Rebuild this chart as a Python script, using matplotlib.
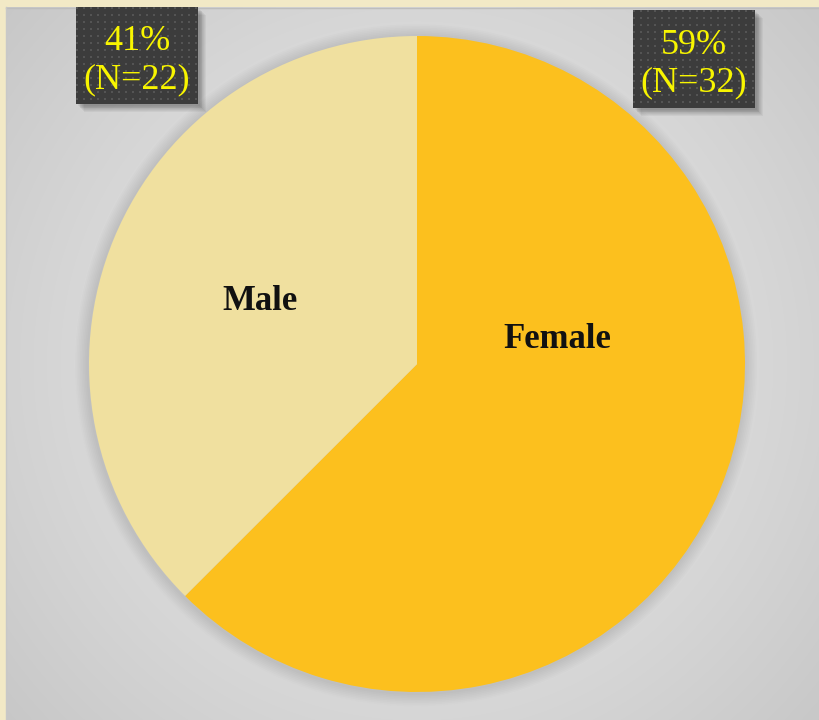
import numpy as np
import matplotlib
matplotlib.use("Agg")
import matplotlib.pyplot as plt
from matplotlib.patches import Rectangle, Circle

# ---- data ----
categories = ["Female", "Male"]
shares = [62.5, 37.5]              # drawn slice shares
pct_labels = ["59%", "41%"]
n_labels = ["(N=32)", "(N=22)"]
colors = ["#FCC01E", "#F0E09F"]

W, H = 820, 720
fig = plt.figure(figsize=(W / 100, H / 100), dpi=100)

# background axes in pixel coordinates
bg = fig.add_axes([0, 0, 1, 1])
bg.set_xlim(0, W)
bg.set_ylim(H, 0)
bg.axis("off")
bg.add_patch(Rectangle((0, 0), W, H, color="#F2E9C6", zorder=0))

# radial gradient panel
x0, y0 = 6, 7
xs = np.arange(x0, W) + 0.5
ys = np.arange(y0, H) + 0.5
XX, YY = np.meshgrid(xs, ys)
d = np.sqrt((XX - 417) ** 2 + (YY - 364) ** 2)
t = np.clip(d / 560.0, 0, 1)
inner = np.array([234, 234, 234]) / 255
outer = np.array([198, 198, 198]) / 255
img = inner[None, None, :] * (1 - t[..., None] ** 1.3) + outer[None, None, :] * (t[..., None] ** 1.3)
bg.imshow(img, extent=[x0, W, H, y0], zorder=1, interpolation="bilinear", aspect="auto")
bg.plot([x0, W], [y0 + 0.5, y0 + 0.5], color="#BDBDBD", lw=1, zorder=2)
bg.plot([x0 + 0.5, x0 + 0.5], [y0, H], color="#C8C8C8", lw=1, zorder=2)

# pie axes
cx, cy, R = 417, 364, 328
pax = fig.add_axes([(cx - R * 1.1) / W, (H - cy - R * 1.1) / H, 2.2 * R / W, 2.2 * R / H])
pax.axis("off")
# soft shadow
for i in range(8):
    pax.add_patch(Circle((-0.003, -0.004), 1.0 + 0.005 * (i + 1), color="black",
                         alpha=0.01, lw=0, zorder=0))
pax.pie(shares, colors=colors, startangle=90, counterclock=False, radius=1.0,
        wedgeprops=dict(linewidth=0, zorder=2))
pax.set_xlim(-1.1, 1.1)
pax.set_ylim(-1.1, 1.1)
pax.set_aspect("equal")

font = "Liberation Serif"
pax.text((557 - cx) / R, (cy - 340) / R, categories[0], ha="center", va="center",
         fontsize=25, fontweight="bold", family=font, color="#111111", zorder=5)
pax.text((260 - cx) / R, (cy - 302) / R, categories[1], ha="center", va="center",
         fontsize=25, fontweight="bold", family=font, color="#111111", zorder=5)

# label boxes (overlay in pixel coordinates)
ov = fig.add_axes([0, 0, 1, 1])
ov.set_xlim(0, W)
ov.set_ylim(H, 0)
ov.axis("off")
ov.patch.set_alpha(0)

def box(xl, xr, yt, yb, lines):
    # blurred shadow
    for i in range(8):
        ov.add_patch(Rectangle((xl + 2 + i * 0.8, yt + 2 + i * 0.8), xr - xl, yb - yt,
                               color="black", alpha=0.045, lw=0, zorder=3))
    w, h = int(xr - xl), int(yb - yt)
    tex = np.ones((h, w, 3)) * np.array([60, 60, 60]) / 255
    gy, gx = np.mgrid[0:h, 0:w]
    dots = ((gx % 7) < 2) & ((gy % 7) < 2)
    tex[dots] = np.array([84, 84, 84]) / 255
    ov.imshow(tex, extent=[xl, xr, yb, yt], zorder=4, interpolation="nearest", aspect="auto")
    xc = (xl + xr) / 2
    ov.text(xc, yt + 35, lines[0], ha="center", va="center", fontsize=26,
            family=font, color="#F8F500", zorder=6)
    ov.text(xc, yt + 73, lines[1], ha="center", va="center", fontsize=26,
            family=font, color="#F8F500", zorder=6)

box(76, 198, 7, 104, [pct_labels[1], n_labels[1]])
box(633, 755, 10, 108, [pct_labels[0], n_labels[0]])
ov.set_xlim(0, W)
ov.set_ylim(H, 0)

fig.savefig("out.png", dpi=100)
